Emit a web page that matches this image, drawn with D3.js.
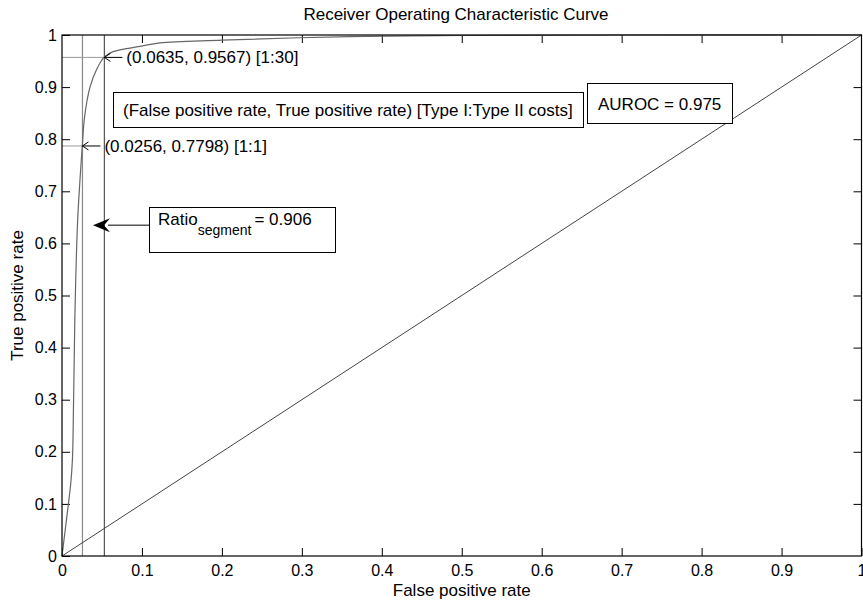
<!DOCTYPE html>
<html>
<head>
<meta charset="utf-8">
<script src="https://cdn.jsdelivr.net/npm/d3@7"></script>
<style>
  body { margin: 0; background: #fff; }
  text { font-family: Arial, "Liberation Sans", sans-serif; }
</style>
</head>
<body>
<script>
// dimensions
const width = 863;
const height = 602;

const margin = { top: 35, right: 1, bottom: 46, left: 62 };

// roc curve (false positive rate, true positive rate)
const fpr = [0, 0.004, 0.008, 0.011, 0.013, 0.0145, 0.016, 0.0196, 0.026, 0.028, 0.035, 0.043, 0.053, 0.064, 0.0975, 0.1225, 0.2, 0.36, 0.5, 0.7, 1];
const tpr = [0, 0.05, 0.1, 0.14, 0.184, 0.3, 0.45, 0.645, 0.8, 0.84, 0.9, 0.933, 0.958, 0.968, 0.978, 0.985, 0.99, 0.997, 0.999, 1, 1];

// chance line
const diagonal = [[0, 0], [1, 1]];

// operating points with their labels
const opFpr = [0.0256, 0.053];
const opTpr = [0.787, 0.957];
const opLabels = ["(0.0256, 0.7798) [1:1]", "(0.0635, 0.9567) [1:30]"];
const opColors = ["#8a8a8a", "#555"];

const xTicks = [0, 0.1, 0.2, 0.3, 0.4, 0.5, 0.6, 0.7, 0.8, 0.9, 1];
const yTicks = [0, 0.1, 0.2, 0.3, 0.4, 0.5, 0.6, 0.7, 0.8, 0.9, 1];

const titleText = "Receiver Operating Characteristic Curve";
const xLabel = "False positive rate";
const yLabel = "True positive rate";
const legendText = "(False positive rate, True positive rate) [Type I:Type II costs]";
const aurocText = "AUROC = 0.975";
const ratioValue = "= 0.906";

let svg = d3.select("body")
    .append("svg")
    .attr("width", width)
    .attr("height", height);

const x0 = margin.left, x1 = width - margin.right - 0.5;
const y0 = height - margin.bottom, y1 = margin.top;

let x = d3.scaleLinear().domain([0, 1]).range([x0, x1]);
let y = d3.scaleLinear().domain([0, 1]).range([y0, y1]);

const fmt = d => String(+d.toFixed(1));

// axes, ticks point inwards like matlab
svg.append("g")
    .attr("transform", "translate(0," + y0 + ")")
    .call(d3.axisBottom(x).tickValues(xTicks).tickFormat(fmt).tickSizeInner(-8).tickSizeOuter(0).tickPadding(9))
    .call(g => g.select(".domain").remove());
svg.append("g")
    .attr("transform", "translate(0," + y1 + ")")
    .call(d3.axisTop(x).tickValues(xTicks.slice(1, -1)).tickFormat("").tickSizeInner(-8).tickSizeOuter(0))
    .call(g => g.select(".domain").remove());
svg.append("g")
    .attr("transform", "translate(" + x0 + ",0)")
    .call(d3.axisLeft(y).tickValues(yTicks).tickFormat(fmt).tickSizeInner(-8).tickSizeOuter(0).tickPadding(5))
    .call(g => g.select(".domain").remove());
svg.append("g")
    .attr("transform", "translate(" + x1 + ",0)")
    .call(d3.axisRight(y).tickValues(yTicks.slice(1, -1)).tickFormat("").tickSizeInner(-8).tickSizeOuter(0))
    .call(g => g.select(".domain").remove());

svg.selectAll(".tick text")
    .attr("font-size", 16)
    .attr("font-family", "Arial, 'Liberation Sans', sans-serif")
    .attr("fill", "#000");
svg.selectAll(".tick line").attr("stroke", "#000");

// operating point guide lines
opFpr.forEach(function(f, i) {
    svg.append("line")
        .attr("x1", x(f)).attr("x2", x(f))
        .attr("y1", y(0)).attr("y2", y(1))
        .attr("stroke", opColors[i])
        .attr("stroke-width", 1.2);
    svg.append("line")
        .attr("x1", x(0)).attr("x2", x(f))
        .attr("y1", y(opTpr[i])).attr("y2", y(opTpr[i]))
        .attr("stroke", "#999")
        .attr("stroke-width", 1);
});

// diagonal
svg.append("path")
    .datum(diagonal)
    .attr("d", d3.line().x(d => x(d[0])).y(d => y(d[1])))
    .attr("fill", "none")
    .attr("stroke", "#444")
    .attr("stroke-width", 1);

// roc curve
svg.append("path")
    .datum(fpr.map((f, i) => [f, tpr[i]]))
    .attr("d", d3.line().x(d => x(d[0])).y(d => y(d[1])).curve(d3.curveCatmullRom.alpha(0.5)))
    .attr("fill", "none")
    .attr("stroke", "#666")
    .attr("stroke-width", 1.2);

// plot frame
svg.append("rect")
    .attr("x", x0).attr("y", y1)
    .attr("width", x1 - x0).attr("height", y0 - y1)
    .attr("fill", "none")
    .attr("stroke", "#000")
    .attr("stroke-width", 1.2);

// small open arrows and labels for operating points
opFpr.forEach(function(f, i) {
    let tx = x(f), ty = y(opTpr[i]);
    svg.append("path")
        .attr("d", "M" + (tx + 18) + "," + ty + "H" + tx + "M" + (tx + 6) + "," + (ty - 4) + "L" + tx + "," + ty + "L" + (tx + 6) + "," + (ty + 4))
        .attr("fill", "none")
        .attr("stroke", "#000")
        .attr("stroke-width", 1);
    svg.append("text")
        .attr("x", tx + 22)
        .attr("y", ty + 6)
        .attr("font-size", 17)
        .text(opLabels[i]);
});

// legend boxes
svg.append("rect")
    .attr("x", 113.5).attr("y", 92.5).attr("width", 470).attr("height", 35)
    .attr("fill", "#fff").attr("stroke", "#000");
svg.append("text")
    .attr("x", 123).attr("y", 116)
    .attr("font-size", 17)
    .text(legendText);

svg.append("rect")
    .attr("x", 587.5).attr("y", 83.5).attr("width", 145).attr("height", 40)
    .attr("fill", "#fff").attr("stroke", "#000");
svg.append("text")
    .attr("x", 598).attr("y", 110)
    .attr("font-size", 17)
    .text(aurocText);

// ratio box with a filled arrow
const arrowY = y(0.635);
svg.append("rect")
    .attr("x", 149.5).attr("y", 207.5).attr("width", 186).attr("height", 45)
    .attr("fill", "#fff").attr("stroke", "#000");
let ratio = svg.append("text")
    .attr("x", 158).attr("y", 225)
    .attr("font-size", 17);
ratio.append("tspan").text("Ratio");
ratio.append("tspan").attr("font-size", 14).attr("dy", 10).text("segment");
ratio.append("tspan").attr("dy", -10).attr("dx", 3).text(ratioValue);

svg.append("line")
    .attr("x1", 149).attr("x2", 108)
    .attr("y1", arrowY).attr("y2", arrowY)
    .attr("stroke", "#000").attr("stroke-width", 1);
const tipX = 93;
svg.append("path")
    .attr("d", "M" + tipX + "," + arrowY + "L" + (tipX + 17) + "," + (arrowY - 7) + "L" + (tipX + 11) + "," + arrowY + "L" + (tipX + 17) + "," + (arrowY + 7) + "Z")
    .attr("fill", "#000");

// titles
svg.append("text")
    .attr("x", 456).attr("y", 20)
    .attr("text-anchor", "middle")
    .attr("font-size", 17)
    .text(titleText);
svg.append("text")
    .attr("x", (x0 + x1) / 2).attr("y", 596)
    .attr("text-anchor", "middle")
    .attr("font-size", 17)
    .text(xLabel);
svg.append("text")
    .attr("transform", "translate(23," + (y0 + y1) / 2 + ") rotate(-90)")
    .attr("text-anchor", "middle")
    .attr("font-size", 17)
    .text(yLabel);
</script>
</body>
</html>
